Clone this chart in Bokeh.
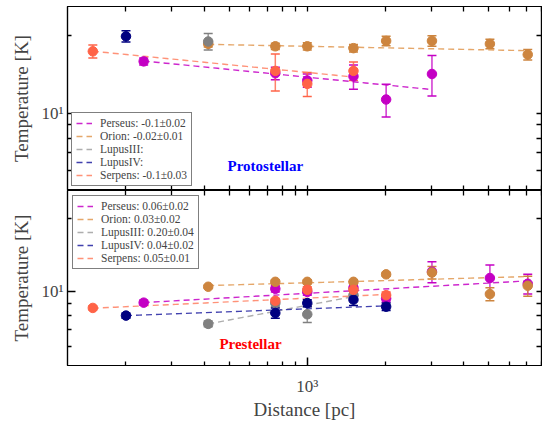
import numpy as np
from bokeh.plotting import figure
from bokeh.models import (ColumnDataSource, Whisker, TeeHead, Legend, LegendItem,
                          Label, LogAxis, FixedTicker, Range1d, LogScale)
from bokeh.layouts import column
from bokeh.embed import file_html
from bokeh.resources import INLINE

FONT = "Liberation Serif"

regions = ["Perseus", "Orion", "LupusIII", "LupusIV", "Serpens"]
marker_colors = ["#c400c4", "#cd853f", "#808080", "#000080", "#ff6347"]
line_colors = ["#c400c4", "#e09850", "#a0a0a0", "#2020a0", "#ff7f60"]

# ---------------- Protostellar (top panel) ----------------
proto_perseus_d = [234, 753, 1000, 1507, 2014, 3025]
proto_perseus_t = [15.9, 14.3, 13.4, 13.9, 11.3, 14.2]
proto_perseus_e = [0.5, 0.8, 0.8, 1.5, 1.65, 2.55]

proto_orion_d = [415, 753, 1000, 1507, 2014, 3025, 5060, 7080]
proto_orion_t = [18.6, 18.2, 18.2, 17.9, 19.1, 19.1, 18.6, 16.9]
proto_orion_e = [0.5, 0.5, 0.6, 0.6, 0.8, 0.9, 0.8, 0.8]

proto_lupus3_d = [415]
proto_lupus3_t = [19.0]
proto_lupus3_e = [1.4]

proto_lupus4_d = [200]
proto_lupus4_t = [19.9]
proto_lupus4_e = [1.0]

proto_serpens_d = [149, 753, 1000, 1507]
proto_serpens_t = [17.4, 14.6, 13.0, 14.6]
proto_serpens_e = [1.0, 2.4, 1.4, 1.2]

proto_labels = ["Perseus: -0.1\u00b10.02", "Orion: -0.02\u00b10.01", "LupusIII:",
                "LupusIV:", "Serpens: -0.1\u00b10.03"]
proto_slopes = [-0.1, -0.02, None, None, -0.1]
proto_t1000 = [13.8, 18.2, None, None, 14.4]

# ---------------- Prestellar (bottom panel) ----------------
pre_perseus_d = [234, 753, 1000, 1507, 2014, 3025, 5060, 7080]
pre_perseus_t = [9.04, 10.3, 10.0, 10.4, 9.4, 12.1, 11.4, 10.8]
pre_perseus_e = [0.2, 0.3, 0.3, 0.3, 0.3, 1.2, 1.5, 1.0]

pre_orion_d = [415, 753, 1000, 1507, 2014, 3025, 5060, 7080]
pre_orion_t = [10.5, 11.0, 11.0, 11.0, 11.8, 12.0, 9.8, 10.6]
pre_orion_e = [0.15, 0.2, 0.2, 0.2, 0.2, 0.7, 0.6, 1.0]

pre_lupus3_d = [415, 753, 1000, 1507]
pre_lupus3_t = [7.4, 9.0, 8.1, 9.7]
pre_lupus3_e = [0.2, 0.3, 0.6, 0.3]

pre_lupus4_d = [200, 753, 1000, 1507, 2014]
pre_lupus4_t = [8.0, 8.2, 9.0, 9.3, 8.7]
pre_lupus4_e = [0.2, 0.4, 0.3, 0.5, 0.3]

pre_serpens_d = [149, 753, 1000, 1507, 2014]
pre_serpens_t = [8.6, 9.2, 10.2, 10.2, 9.7]
pre_serpens_e = [0.15, 0.2, 0.3, 0.3, 0.3]

pre_labels = ["Perseus: 0.06\u00b10.02", "Orion: 0.03\u00b10.02", "LupusIII: 0.20\u00b10.04",
              "LupusIV: 0.04\u00b10.02", "Serpens: 0.05\u00b10.01"]
pre_slopes = [0.06, 0.03, 0.20, 0.04, 0.05]
pre_t1000 = [9.87, 10.9, 8.82, 8.53, 9.43]

x_major = [1000]
x_minor = [200, 300, 400, 500, 600, 700, 800, 900, 2000, 3000, 4000, 5000, 6000, 7000, 8000]
y_major = [10]
y_minor = [6, 7, 8, 9, 20]


def style_axis(ax):
    ax.major_tick_in = 8
    ax.major_tick_out = 0
    ax.minor_tick_in = 4
    ax.minor_tick_out = 0
    ax.major_tick_line_width = 1.5
    ax.minor_tick_line_width = 1.3
    ax.axis_line_width = 1.2
    ax.major_label_text_font = FONT
    ax.major_label_text_font_size = "17px"
    ax.axis_label_text_font = FONT
    ax.axis_label_text_font_size = "19px"
    ax.axis_label_text_font_style = "normal"


def make_fig(height, border_top, border_bottom, show_x):
    p = figure(width=542, height=height, x_axis_type=None, y_axis_type=None,
               x_range=Range1d(119, 8000), y_range=Range1d(5, 26),
               output_backend="svg", toolbar_location=None,
               min_border_left=67, min_border_right=1, min_border_top=border_top,
               min_border_bottom=border_bottom)
    p.x_scale = LogScale()
    p.y_scale = LogScale()
    p.grid.visible = False
    p.outline_line_color = "black"
    p.outline_line_width = 1.2

    yl = LogAxis(ticker=FixedTicker(ticks=y_major, minor_ticks=y_minor),
                 major_label_overrides={10: "10\u00b9"})
    style_axis(yl)
    yl.axis_label = "Temperature [K]"
    yl.axis_label_standoff = 6
    yl.major_label_standoff = 4
    p.add_layout(yl, "left")

    yr = LogAxis(ticker=FixedTicker(ticks=[], minor_ticks=y_major + y_minor))
    style_axis(yr)
    yr.minor_tick_in = 5
    p.add_layout(yr, "right")

    xt = LogAxis(ticker=FixedTicker(ticks=[], minor_ticks=x_major + x_minor))
    style_axis(xt)
    xt.minor_tick_in = 5
    p.add_layout(xt, "above")

    if show_x:
        xb = LogAxis(ticker=FixedTicker(ticks=x_major, minor_ticks=x_minor),
                     major_label_overrides={1000: "10\u00b3"})
        style_axis(xb)
        xb.axis_label = "Distance [pc]"
        xb.axis_label_standoff = 0
        xb.major_label_standoff = 11
    else:
        xb = LogAxis(ticker=FixedTicker(ticks=[], minor_ticks=x_major + x_minor))
        style_axis(xb)
        xb.minor_tick_in = 5
    p.add_layout(xb, "below")
    return p


def draw_panel(p, data, labels, slopes, t1000, legend_loc, legend_margin):
    items = []
    for i, (d, t, e) in enumerate(data):
        d = np.array(d, float)
        if slopes[i] is not None:
            xs = np.geomspace(d.min(), d.max(), 40)
            ys = t1000[i] * (xs / 1000.0) ** slopes[i]
        else:
            xs = np.array([np.nan, np.nan])
            ys = np.array([np.nan, np.nan])
        lr = p.line(xs, ys, line_color=line_colors[i], line_dash="6 4",
                    line_width=1.4, line_alpha=0.85)
        items.append(LegendItem(label=labels[i], renderers=[lr]))
    for i, (d, t, e) in enumerate(data):
        d = np.array(d, float)
        t = np.array(t, float)
        e = np.array(e, float)
        src = ColumnDataSource(dict(x=d, y=t, lo=t - e, hi=t + e))
        w = Whisker(base="x", lower="lo", upper="hi", source=src,
                    line_color=marker_colors[i], line_width=1.5, line_alpha=0.8,
                    upper_head=TeeHead(size=9, line_color=marker_colors[i], line_width=1.5),
                    lower_head=TeeHead(size=9, line_color=marker_colors[i], line_width=1.5))
        p.add_layout(w)
        p.scatter("x", "y", source=src, size=9.5, fill_color=marker_colors[i],
                  line_color=marker_colors[i])
    leg = Legend(items=items, location=legend_loc)
    leg.label_text_font = FONT
    leg.label_text_font_size = "11.5px"
    leg.label_height = 12
    leg.glyph_height = 12
    leg.glyph_width = 16
    leg.label_standoff = 8
    leg.spacing = 1
    leg.padding = 4
    leg.margin = legend_margin
    leg.border_line_color = "black"
    leg.border_line_width = 1.2
    leg.background_fill_alpha = 1
    p.add_layout(leg, "center")


top = make_fig(190, 6, 0, False)
draw_panel(top,
           [(proto_perseus_d, proto_perseus_t, proto_perseus_e),
            (proto_orion_d, proto_orion_t, proto_orion_e),
            (proto_lupus3_d, proto_lupus3_t, proto_lupus3_e),
            (proto_lupus4_d, proto_lupus4_t, proto_lupus4_e),
            (proto_serpens_d, proto_serpens_t, proto_serpens_e)],
           proto_labels, proto_slopes, proto_t1000, "bottom_left", 4)
top.add_layout(Label(x=689, y=6.24, text="Protostellar", text_color="#0000ff",
                     text_font=FONT, text_font_size="15px", text_font_style="bold",
                     text_align="center", text_baseline="middle"))

bot = make_fig(232, 0, 48, True)
draw_panel(bot,
           [(pre_perseus_d, pre_perseus_t, pre_perseus_e),
            (pre_orion_d, pre_orion_t, pre_orion_e),
            (pre_lupus3_d, pre_lupus3_t, pre_lupus3_e),
            (pre_lupus4_d, pre_lupus4_t, pre_lupus4_e),
            (pre_serpens_d, pre_serpens_t, pre_serpens_e)],
           pre_labels, pre_slopes, pre_t1000, "top_left", 5)
bot.add_layout(Label(x=604, y=6.1, text="Prestellar", text_color="#ff0000",
                     text_font=FONT, text_font_size="15px", text_font_style="bold",
                     text_align="center", text_baseline="middle"))

layout = column(top, bot, spacing=0)
open("out.html", "w").write(file_html(layout, INLINE))
